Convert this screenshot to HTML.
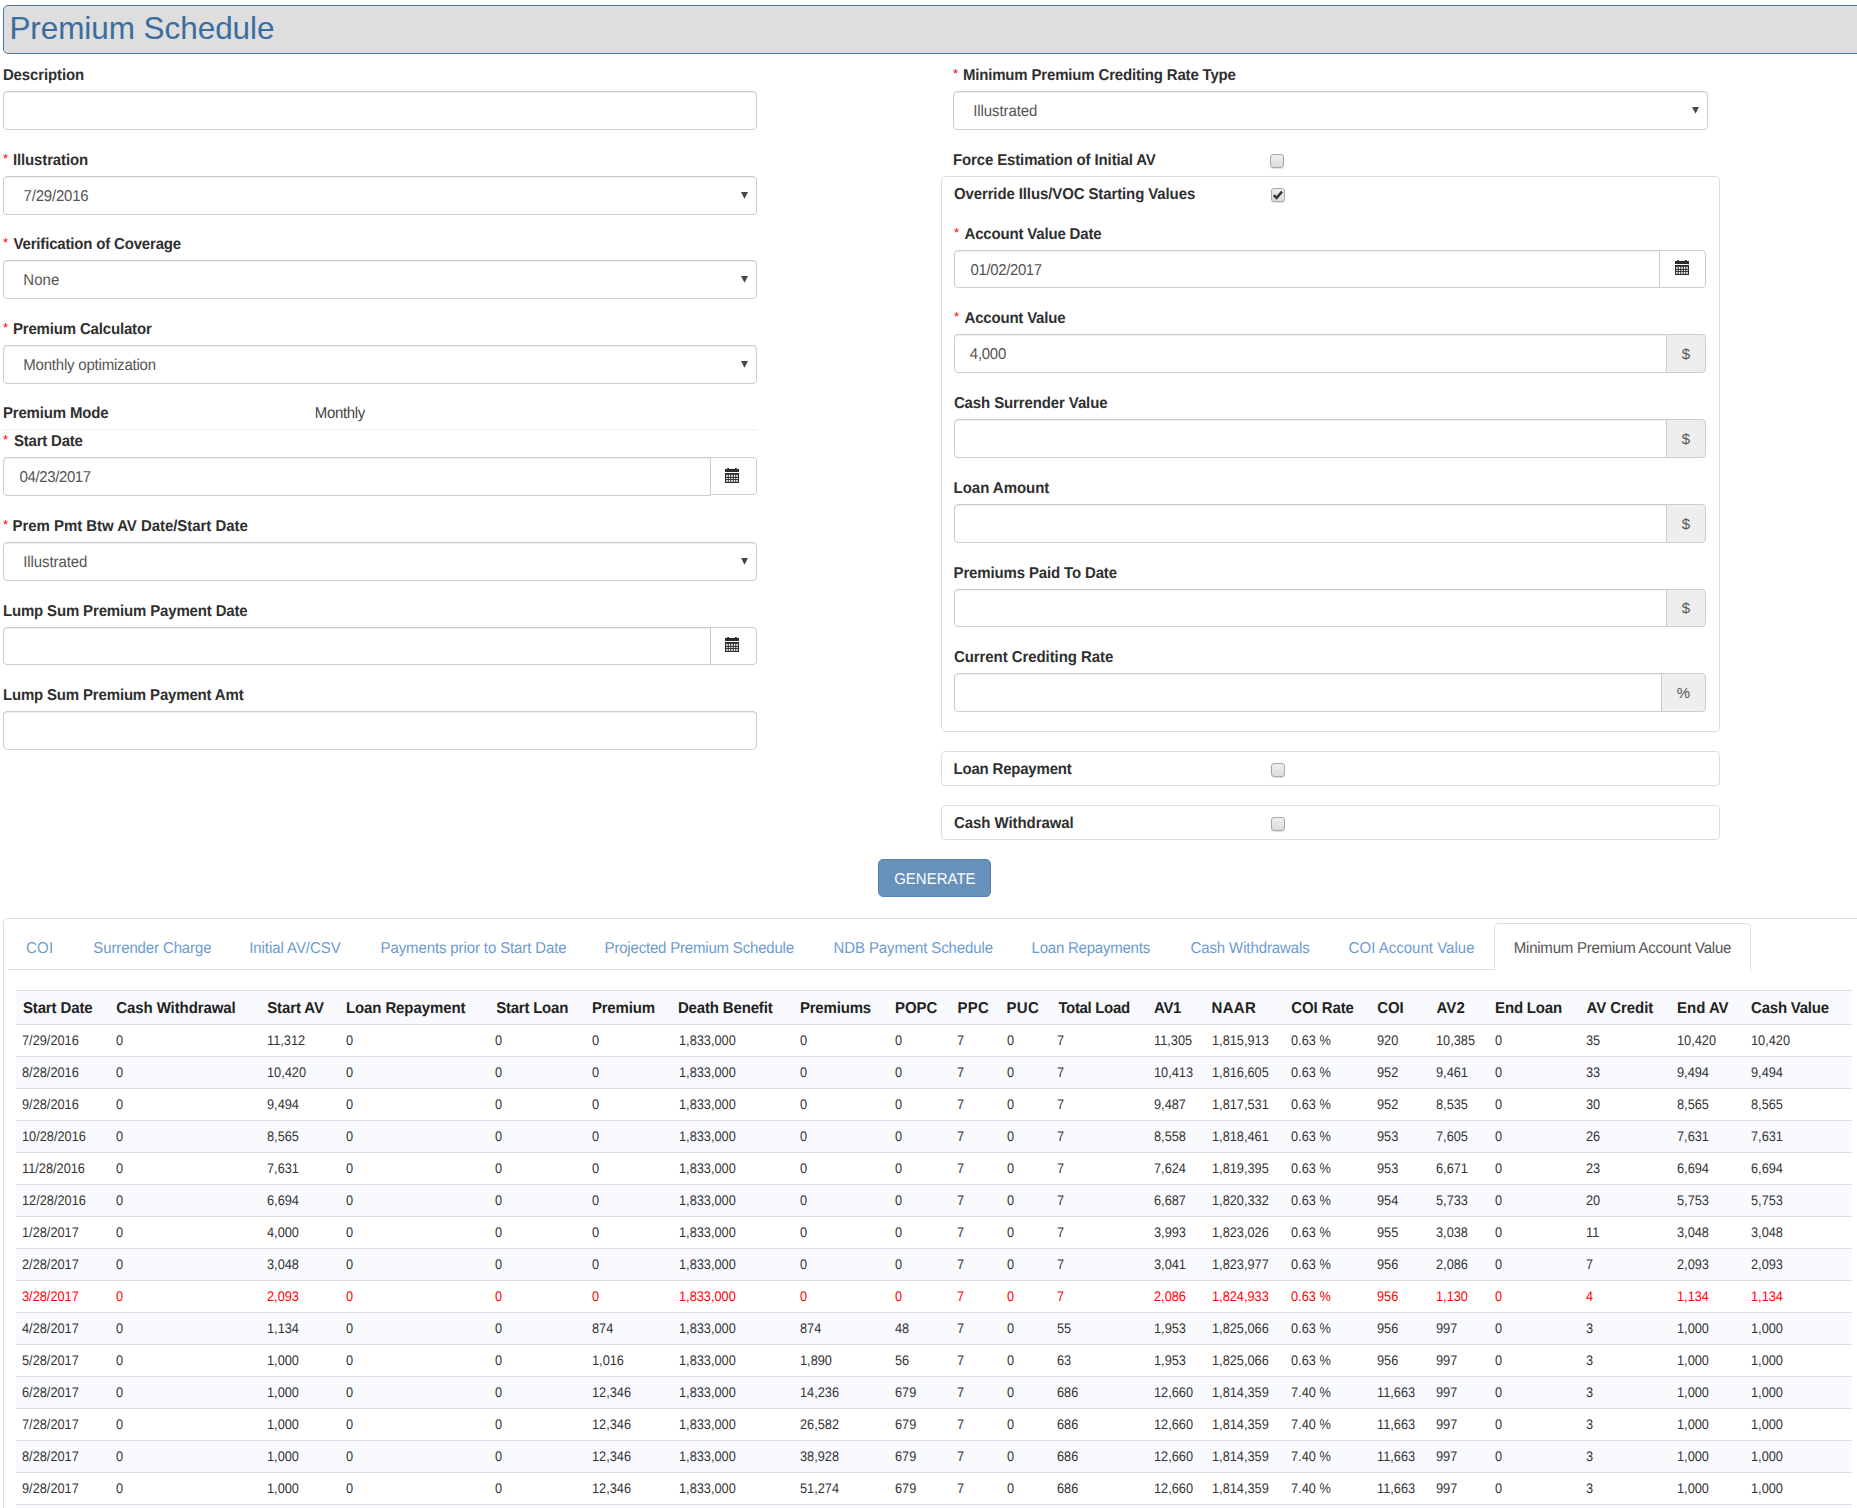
<!DOCTYPE html><html><head><meta charset="utf-8"><title>Premium Schedule</title><style>
*{box-sizing:border-box;margin:0;padding:0}
html,body{width:1857px;height:1508px;overflow:hidden;background:#fff}
body{font-family:"Liberation Sans",sans-serif;font-size:15px;color:#333;position:relative}
.abs{position:absolute}
.t{position:absolute;white-space:nowrap;line-height:20px;height:20px;text-rendering:geometricPrecision;transform:scaleY(1.05);transform-origin:0 14px}
.lb{font-weight:bold;color:#2f2f2f}
.req{color:#f00;font-size:13px;transform:none;text-rendering:auto}
.inp{position:absolute;border:1px solid #ccc;border-radius:4px;background:#fff;box-shadow:inset 0 1px 1px rgba(0,0,0,.075)}
.val{color:#555}
.arrow{position:absolute;width:0;height:0;border-left:3.5px solid transparent;border-right:3.5px solid transparent;border-top:6.5px solid #444}
.addon{position:absolute;border:1px solid #ccc;border-radius:0 4px 4px 0;background:#eee;color:#555;text-align:center}
.addon.w{background:#fff}
.panel{position:absolute;border:1px solid #ddd;border-radius:4px;background:#fff}
.cb{position:absolute;width:14px;height:14px;border:1px solid #a8a8a8;border-radius:3px;background:linear-gradient(#efefef,#dcdcdc);box-shadow:0 1px 1px rgba(0,0,0,.12)}
.tab{color:#6d9bcf}
.th{font-weight:bold;color:#222}
.td{font-size:14px;color:#333;transform:scaleX(0.912);transform-origin:0 14px}
.red{color:#f00}
</style></head><body>
<div class="abs" style="left:3px;top:5px;width:1870px;height:49px;background:#dedede;border:1px solid #4b77a6;border-radius:5px"></div>
<div id="title" class="t " style="left:9.38px;top:7px;letter-spacing:-0.067px;font-size:31.5px;line-height:42px;height:42px;color:#3b6d9e;transform:none;text-rendering:auto">Premium Schedule</div>
<div id="t2" class="t lb" style="left:2.90px;top:66.0px;letter-spacing:-0.119px;">Description</div>
<div class="inp" style="left:3px;top:91px;width:754px;height:39px;"></div>
<div class="t req" style="left:3px;top:149.1px">*</div>
<div id="t3" class="t lb" style="left:12.90px;top:151.0px;letter-spacing:-0.123px;">Illustration</div>
<div class="inp" style="left:3px;top:176px;width:754px;height:39px;"></div>
<div id="t4" class="t val" style="left:23.62px;top:187.0px;letter-spacing:-0.203px;">7/29/2016</div>
<svg class="abs" style="left:741.0px;top:192px" width="8" height="8" viewBox="0 0 8 8"><path d="M0 0H7L3.5 6.8z" fill="#484848"/></svg>
<div class="t req" style="left:3px;top:233.1px">*</div>
<div id="t5" class="t lb" style="left:13.55px;top:235.0px;letter-spacing:-0.179px;">Verification of Coverage</div>
<div class="inp" style="left:3px;top:260px;width:754px;height:39px;"></div>
<div id="t6" class="t val" style="left:23.31px;top:271.0px;letter-spacing:0.072px;">None</div>
<svg class="abs" style="left:741.0px;top:276px" width="8" height="8" viewBox="0 0 8 8"><path d="M0 0H7L3.5 6.8z" fill="#484848"/></svg>
<div class="t req" style="left:3px;top:318.1px">*</div>
<div id="t7" class="t lb" style="left:12.90px;top:320.0px;letter-spacing:-0.168px;">Premium Calculator</div>
<div class="inp" style="left:3px;top:345px;width:754px;height:39px;"></div>
<div id="t8" class="t val" style="left:23.31px;top:356.0px;letter-spacing:-0.208px;">Monthly optimization</div>
<svg class="abs" style="left:741.0px;top:361px" width="8" height="8" viewBox="0 0 8 8"><path d="M0 0H7L3.5 6.8z" fill="#484848"/></svg>
<div id="t9" class="t lb" style="left:2.90px;top:404.0px;letter-spacing:-0.166px;">Premium Mode</div>
<div id="t10" class="t val" style="left:314.77px;top:404.0px;letter-spacing:-0.319px;color:#444">Monthly</div>
<div class="abs" style="left:3px;top:429px;width:754px;height:1px;background:#eee"></div>
<div class="t req" style="left:3px;top:430.1px">*</div>
<div id="t11" class="t lb" style="left:14.07px;top:432.0px;letter-spacing:-0.222px;">Start Date</div>
<div class="inp" style="left:3px;top:457px;width:708px;height:39px;border-radius:4px 0 0 4px;"></div>
<div id="t12" class="t val" style="left:19.48px;top:468.0px;letter-spacing:-0.373px;">04/23/2017</div>
<div class="addon w" style="left:710px;top:457px;width:47px;height:38px;line-height:36px"></div>
<svg width="14" height="15" viewBox="0 0 14 15" style="position:absolute;left:725px;top:468px"><path fill="#2b2b2b" d="M0 1.1h14v2.8H0z M2.3 0h1.7v1.5H2.3z M10 0h1.7v1.5H10z M0 5h14v10H0z"/><g fill="#fff"><rect x="1.2" y="6.8" width="1.5" height="2.1"/><rect x="1.2" y="9.9" width="1.5" height="1.1"/><rect x="1.2" y="11.9" width="1.5" height="2.0"/><rect x="3.75" y="6.8" width="1.5" height="2.1"/><rect x="3.75" y="9.9" width="1.5" height="1.1"/><rect x="3.75" y="11.9" width="1.5" height="2.0"/><rect x="6.25" y="6.8" width="1.5" height="2.1"/><rect x="6.25" y="9.9" width="1.5" height="1.1"/><rect x="6.25" y="11.9" width="1.5" height="2.0"/><rect x="8.8" y="6.8" width="1.5" height="2.1"/><rect x="8.8" y="9.9" width="1.5" height="1.1"/><rect x="8.8" y="11.9" width="1.5" height="2.0"/><rect x="11.3" y="6.8" width="1.5" height="2.1"/><rect x="11.3" y="9.9" width="1.5" height="1.1"/><rect x="11.3" y="11.9" width="1.5" height="2.0"/></g></svg>
<div class="t req" style="left:3px;top:515.1px">*</div>
<div id="t13" class="t lb" style="left:12.48px;top:517.0px;letter-spacing:-0.048px;">Prem Pmt Btw AV Date/Start Date</div>
<div class="inp" style="left:3px;top:542px;width:754px;height:39px;"></div>
<div id="t14" class="t val" style="left:23.16px;top:553.0px;letter-spacing:-0.075px;">Illustrated</div>
<svg class="abs" style="left:741.0px;top:558px" width="8" height="8" viewBox="0 0 8 8"><path d="M0 0H7L3.5 6.8z" fill="#484848"/></svg>
<div id="t15" class="t lb" style="left:2.90px;top:602.0px;letter-spacing:-0.159px;">Lump Sum Premium Payment Date</div>
<div class="inp" style="left:3px;top:627px;width:708px;height:38px;border-radius:4px 0 0 4px;"></div>
<div class="addon w" style="left:710px;top:627px;width:47px;height:38px;line-height:36px"></div>
<svg width="14" height="15" viewBox="0 0 14 15" style="position:absolute;left:725px;top:637px"><path fill="#2b2b2b" d="M0 1.1h14v2.8H0z M2.3 0h1.7v1.5H2.3z M10 0h1.7v1.5H10z M0 5h14v10H0z"/><g fill="#fff"><rect x="1.2" y="6.8" width="1.5" height="2.1"/><rect x="1.2" y="9.9" width="1.5" height="1.1"/><rect x="1.2" y="11.9" width="1.5" height="2.0"/><rect x="3.75" y="6.8" width="1.5" height="2.1"/><rect x="3.75" y="9.9" width="1.5" height="1.1"/><rect x="3.75" y="11.9" width="1.5" height="2.0"/><rect x="6.25" y="6.8" width="1.5" height="2.1"/><rect x="6.25" y="9.9" width="1.5" height="1.1"/><rect x="6.25" y="11.9" width="1.5" height="2.0"/><rect x="8.8" y="6.8" width="1.5" height="2.1"/><rect x="8.8" y="9.9" width="1.5" height="1.1"/><rect x="8.8" y="11.9" width="1.5" height="2.0"/><rect x="11.3" y="6.8" width="1.5" height="2.1"/><rect x="11.3" y="9.9" width="1.5" height="1.1"/><rect x="11.3" y="11.9" width="1.5" height="2.0"/></g></svg>
<div id="t16" class="t lb" style="left:2.90px;top:686.0px;letter-spacing:-0.169px;">Lump Sum Premium Payment Amt</div>
<div class="inp" style="left:3px;top:711px;width:754px;height:39px;"></div>
<div class="t req" style="left:953px;top:64.1px">*</div>
<div id="t17" class="t lb" style="left:962.90px;top:66.0px;letter-spacing:-0.173px;">Minimum Premium Crediting Rate Type</div>
<div class="inp" style="left:953px;top:91px;width:755px;height:39px;"></div>
<div id="t18" class="t val" style="left:973.16px;top:102.0px;letter-spacing:-0.075px;">Illustrated</div>
<svg class="abs" style="left:1692.0px;top:107px" width="8" height="8" viewBox="0 0 8 8"><path d="M0 0H7L3.5 6.8z" fill="#484848"/></svg>
<div id="t19" class="t lb" style="left:952.90px;top:151.0px;letter-spacing:-0.128px;">Force Estimation of Initial AV</div>
<div class="cb" style="left:1270px;top:154px"></div>
<div class="panel" style="left:941px;top:176px;width:779px;height:556px"></div>
<div id="t20" class="t lb" style="left:953.90px;top:185.0px;letter-spacing:-0.113px;">Override Illus/VOC Starting Values</div>
<div class="cb" style="left:1271px;top:188px"></div>
<svg class="abs" style="left:1271px;top:188px" width="14" height="14" viewBox="0 0 14 14"><path d="M2.8 7.2 L5.6 10 L11 3.6" fill="none" stroke="#333" stroke-width="2.5"/></svg>
<div class="t req" style="left:954px;top:223.1px">*</div>
<div id="t21" class="t lb" style="left:964.52px;top:225.0px;letter-spacing:-0.175px;">Account Value Date</div>
<div class="inp" style="left:954px;top:250px;width:706px;height:38px;border-radius:4px 0 0 4px;"></div>
<div id="t22" class="t val" style="left:970.48px;top:261.0px;letter-spacing:-0.373px;">01/02/2017</div>
<div class="addon w" style="left:1659px;top:250px;width:47px;height:38px;line-height:36px"></div>
<svg width="14" height="15" viewBox="0 0 14 15" style="position:absolute;left:1675px;top:260px"><path fill="#2b2b2b" d="M0 1.1h14v2.8H0z M2.3 0h1.7v1.5H2.3z M10 0h1.7v1.5H10z M0 5h14v10H0z"/><g fill="#fff"><rect x="1.2" y="6.8" width="1.5" height="2.1"/><rect x="1.2" y="9.9" width="1.5" height="1.1"/><rect x="1.2" y="11.9" width="1.5" height="2.0"/><rect x="3.75" y="6.8" width="1.5" height="2.1"/><rect x="3.75" y="9.9" width="1.5" height="1.1"/><rect x="3.75" y="11.9" width="1.5" height="2.0"/><rect x="6.25" y="6.8" width="1.5" height="2.1"/><rect x="6.25" y="9.9" width="1.5" height="1.1"/><rect x="6.25" y="11.9" width="1.5" height="2.0"/><rect x="8.8" y="6.8" width="1.5" height="2.1"/><rect x="8.8" y="9.9" width="1.5" height="1.1"/><rect x="8.8" y="11.9" width="1.5" height="2.0"/><rect x="11.3" y="6.8" width="1.5" height="2.1"/><rect x="11.3" y="9.9" width="1.5" height="1.1"/><rect x="11.3" y="11.9" width="1.5" height="2.0"/></g></svg>
<div class="t req" style="left:954px;top:307.1px">*</div>
<div id="t23" class="t lb" style="left:964.52px;top:309.0px;letter-spacing:-0.193px;">Account Value</div>
<div class="inp" style="left:954px;top:334px;width:713px;height:39px;border-radius:4px 0 0 4px;"></div>
<div id="t24" class="t val" style="left:969.86px;top:345.0px;letter-spacing:-0.291px;">4,000</div>
<div class="addon" style="left:1666px;top:334px;width:40px;height:39px;line-height:37px">$</div>
<div id="t25" class="t lb" style="left:953.92px;top:394.0px;letter-spacing:-0.119px;">Cash Surrender Value</div>
<div class="inp" style="left:954px;top:419px;width:713px;height:39px;border-radius:4px 0 0 4px;"></div>
<div class="addon" style="left:1666px;top:419px;width:40px;height:39px;line-height:37px">$</div>
<div id="t26" class="t lb" style="left:953.58px;top:479.0px;letter-spacing:-0.037px;">Loan Amount</div>
<div class="inp" style="left:954px;top:504px;width:713px;height:39px;border-radius:4px 0 0 4px;"></div>
<div class="addon" style="left:1666px;top:504px;width:40px;height:39px;line-height:37px">$</div>
<div id="t27" class="t lb" style="left:953.58px;top:564.0px;letter-spacing:-0.149px;">Premiums Paid To Date</div>
<div class="inp" style="left:954px;top:589px;width:713px;height:38px;border-radius:4px 0 0 4px;"></div>
<div class="addon" style="left:1666px;top:589px;width:40px;height:38px;line-height:36px">$</div>
<div id="t28" class="t lb" style="left:953.92px;top:648.0px;letter-spacing:-0.070px;">Current Crediting Rate</div>
<div class="inp" style="left:954px;top:673px;width:708px;height:39px;border-radius:4px 0 0 4px;"></div>
<div class="addon" style="left:1661px;top:673px;width:45px;height:39px;line-height:37px">%</div>
<div class="panel" style="left:941px;top:751px;width:779px;height:35px"></div>
<div id="t29" class="t lb" style="left:953.58px;top:760.0px;letter-spacing:-0.210px;">Loan Repayment</div>
<div class="cb" style="left:1271px;top:763px"></div>
<div class="panel" style="left:941px;top:805px;width:779px;height:35px"></div>
<div id="t30" class="t lb" style="left:953.92px;top:814.0px;letter-spacing:-0.063px;">Cash Withdrawal</div>
<div class="cb" style="left:1271px;top:817px"></div>
<div class="abs" style="left:878px;top:859px;width:113px;height:38px;background:#6691bb;border:1px solid #5282b3;border-radius:5px"></div>
<div id="btn" class="t " style="left:894.19px;top:869.6px;letter-spacing:-0.000px;color:#fff">GENERATE</div>
<div class="abs" style="left:3px;top:918px;width:1870px;height:700px;border:1px solid #ddd;border-radius:5px 0 0 0"></div>
<div class="abs" style="left:8px;top:969px;width:1743px;height:1px;background:#ddd"></div>
<div id="t32" class="t tab" style="left:25.94px;top:939.0px;letter-spacing:0.300px;">COI</div>
<div id="t33" class="t tab" style="left:93.37px;top:939.0px;letter-spacing:-0.130px;">Surrender Charge</div>
<div id="t34" class="t tab" style="left:249.21px;top:939.0px;letter-spacing:-0.064px;">Initial AV/CSV</div>
<div id="t35" class="t tab" style="left:380.59px;top:939.0px;letter-spacing:-0.119px;">Payments prior to Start Date</div>
<div id="t36" class="t tab" style="left:604.59px;top:939.0px;letter-spacing:-0.190px;">Projected Premium Schedule</div>
<div id="t37" class="t tab" style="left:833.59px;top:939.0px;letter-spacing:-0.120px;">NDB Payment Schedule</div>
<div id="t38" class="t tab" style="left:1031.59px;top:939.0px;letter-spacing:-0.225px;">Loan Repayments</div>
<div id="t39" class="t tab" style="left:1190.43px;top:939.0px;letter-spacing:-0.104px;">Cash Withdrawals</div>
<div id="t40" class="t tab" style="left:1348.60px;top:939.0px;letter-spacing:0.019px;">COI Account Value</div>
<div class="abs" style="left:1494px;top:923px;width:257px;height:48px;border:1px solid #ddd;border-bottom:none;border-radius:5px 5px 0 0;background:#fff"></div>
<div id="t41" class="t tab" style="left:1513.77px;top:939.0px;letter-spacing:-0.225px;color:#555">Minimum Premium Account Value</div>
<div class="abs" style="left:16px;top:990px;width:1836px;height:35px;background:#f9fafd;border-top:1px solid #ddd;border-bottom:1px solid #ddd"></div>
<div id="t42" class="t th" style="left:22.91px;top:999.0px;letter-spacing:-0.130px;">Start Date</div>
<div id="t43" class="t th" style="left:116.27px;top:999.0px;letter-spacing:-0.086px;">Cash Withdrawal</div>
<div id="t44" class="t th" style="left:267.18px;top:999.0px;letter-spacing:-0.113px;">Start AV</div>
<div id="t45" class="t th" style="left:345.90px;top:999.0px;letter-spacing:-0.100px;">Loan Repayment</div>
<div id="t46" class="t th" style="left:496.18px;top:999.0px;letter-spacing:-0.223px;">Start Loan</div>
<div id="t47" class="t th" style="left:591.90px;top:999.0px;letter-spacing:-0.182px;">Premium</div>
<div id="t48" class="t th" style="left:677.90px;top:999.0px;letter-spacing:-0.157px;">Death Benefit</div>
<div id="t49" class="t th" style="left:799.90px;top:999.0px;letter-spacing:-0.184px;">Premiums</div>
<div id="t50" class="t th" style="left:895.11px;top:999.0px;letter-spacing:-0.100px;">POPC</div>
<div id="t51" class="t th" style="left:957.58px;top:999.0px;letter-spacing:0.194px;">PPC</div>
<div id="t52" class="t th" style="left:1006.58px;top:999.0px;letter-spacing:0.244px;">PUC</div>
<div id="t53" class="t th" style="left:1058.42px;top:999.0px;letter-spacing:-0.338px;">Total Load</div>
<div id="t54" class="t th" style="left:1153.98px;top:999.0px;letter-spacing:-0.300px;">AV1</div>
<div id="t55" class="t th" style="left:1211.58px;top:999.0px;letter-spacing:0.300px;">NAAR</div>
<div id="t56" class="t th" style="left:1291.27px;top:999.0px;letter-spacing:-0.096px;">COI Rate</div>
<div id="t57" class="t th" style="left:1377.27px;top:999.0px;letter-spacing:-0.100px;">COI</div>
<div id="t58" class="t th" style="left:1436.52px;top:999.0px;letter-spacing:0.070px;">AV2</div>
<div id="t59" class="t th" style="left:1495.11px;top:999.0px;letter-spacing:-0.196px;">End Loan</div>
<div id="t60" class="t th" style="left:1586.52px;top:999.0px;letter-spacing:-0.051px;">AV Credit</div>
<div id="t61" class="t th" style="left:1677.11px;top:999.0px;letter-spacing:-0.040px;">End AV</div>
<div id="t62" class="t th" style="left:1751.07px;top:999.0px;letter-spacing:-0.233px;">Cash Value</div>
<div class="abs" style="left:16px;top:1024px;width:1836px;height:33px;background:#fff;border-top:1px solid #ddd"></div>
<div class="t td" style="left:21.60px;top:1029.5px;letter-spacing:0.000px">7/29/2016</div>
<div class="t td" style="left:115.60px;top:1029.5px;letter-spacing:0.000px">0</div>
<div class="t td" style="left:266.60px;top:1029.5px;letter-spacing:0.000px">11,312</div>
<div class="t td" style="left:345.60px;top:1029.5px;letter-spacing:0.000px">0</div>
<div class="t td" style="left:494.60px;top:1029.5px;letter-spacing:0.000px">0</div>
<div class="t td" style="left:591.60px;top:1029.5px;letter-spacing:0.000px">0</div>
<div class="t td" style="left:678.60px;top:1029.5px;letter-spacing:0.000px">1,833,000</div>
<div class="t td" style="left:799.60px;top:1029.5px;letter-spacing:0.000px">0</div>
<div class="t td" style="left:894.85px;top:1029.5px;letter-spacing:0.000px">0</div>
<div class="t td" style="left:957.35px;top:1029.5px;letter-spacing:0.000px">7</div>
<div class="t td" style="left:1006.60px;top:1029.5px;letter-spacing:0.000px">0</div>
<div class="t td" style="left:1057.35px;top:1029.5px;letter-spacing:0.000px">7</div>
<div class="t td" style="left:1153.85px;top:1029.5px;letter-spacing:0.000px">11,305</div>
<div class="t td" style="left:1211.85px;top:1029.5px;letter-spacing:0.000px">1,815,913</div>
<div class="t td" style="left:1290.60px;top:1029.5px;letter-spacing:0.000px">0.63 %</div>
<div class="t td" style="left:1376.60px;top:1029.5px;letter-spacing:0.000px">920</div>
<div class="t td" style="left:1436.10px;top:1029.5px;letter-spacing:0.000px">10,385</div>
<div class="t td" style="left:1494.85px;top:1029.5px;letter-spacing:0.000px">0</div>
<div class="t td" style="left:1585.60px;top:1029.5px;letter-spacing:0.000px">35</div>
<div class="t td" style="left:1677.10px;top:1029.5px;letter-spacing:0.000px">10,420</div>
<div class="t td" style="left:1751.10px;top:1029.5px;letter-spacing:0.000px">10,420</div>
<div class="abs" style="left:16px;top:1056px;width:1836px;height:33px;background:#f9fafd;border-top:1px solid #ddd"></div>
<div class="t td" style="left:21.60px;top:1061.5px;letter-spacing:0.000px">8/28/2016</div>
<div class="t td" style="left:115.60px;top:1061.5px;letter-spacing:0.000px">0</div>
<div class="t td" style="left:266.60px;top:1061.5px;letter-spacing:0.000px">10,420</div>
<div class="t td" style="left:345.60px;top:1061.5px;letter-spacing:0.000px">0</div>
<div class="t td" style="left:494.60px;top:1061.5px;letter-spacing:0.000px">0</div>
<div class="t td" style="left:591.60px;top:1061.5px;letter-spacing:0.000px">0</div>
<div class="t td" style="left:678.60px;top:1061.5px;letter-spacing:0.000px">1,833,000</div>
<div class="t td" style="left:799.60px;top:1061.5px;letter-spacing:0.000px">0</div>
<div class="t td" style="left:894.85px;top:1061.5px;letter-spacing:0.000px">0</div>
<div class="t td" style="left:957.35px;top:1061.5px;letter-spacing:0.000px">7</div>
<div class="t td" style="left:1006.60px;top:1061.5px;letter-spacing:0.000px">0</div>
<div class="t td" style="left:1057.35px;top:1061.5px;letter-spacing:0.000px">7</div>
<div class="t td" style="left:1153.85px;top:1061.5px;letter-spacing:0.000px">10,413</div>
<div class="t td" style="left:1211.85px;top:1061.5px;letter-spacing:0.000px">1,816,605</div>
<div class="t td" style="left:1290.60px;top:1061.5px;letter-spacing:0.000px">0.63 %</div>
<div class="t td" style="left:1376.60px;top:1061.5px;letter-spacing:0.000px">952</div>
<div class="t td" style="left:1436.10px;top:1061.5px;letter-spacing:0.000px">9,461</div>
<div class="t td" style="left:1494.85px;top:1061.5px;letter-spacing:0.000px">0</div>
<div class="t td" style="left:1585.60px;top:1061.5px;letter-spacing:0.000px">33</div>
<div class="t td" style="left:1677.10px;top:1061.5px;letter-spacing:0.000px">9,494</div>
<div class="t td" style="left:1751.10px;top:1061.5px;letter-spacing:0.000px">9,494</div>
<div class="abs" style="left:16px;top:1088px;width:1836px;height:33px;background:#fff;border-top:1px solid #ddd"></div>
<div class="t td" style="left:21.60px;top:1093.5px;letter-spacing:0.000px">9/28/2016</div>
<div class="t td" style="left:115.60px;top:1093.5px;letter-spacing:0.000px">0</div>
<div class="t td" style="left:266.60px;top:1093.5px;letter-spacing:0.000px">9,494</div>
<div class="t td" style="left:345.60px;top:1093.5px;letter-spacing:0.000px">0</div>
<div class="t td" style="left:494.60px;top:1093.5px;letter-spacing:0.000px">0</div>
<div class="t td" style="left:591.60px;top:1093.5px;letter-spacing:0.000px">0</div>
<div class="t td" style="left:678.60px;top:1093.5px;letter-spacing:0.000px">1,833,000</div>
<div class="t td" style="left:799.60px;top:1093.5px;letter-spacing:0.000px">0</div>
<div class="t td" style="left:894.85px;top:1093.5px;letter-spacing:0.000px">0</div>
<div class="t td" style="left:957.35px;top:1093.5px;letter-spacing:0.000px">7</div>
<div class="t td" style="left:1006.60px;top:1093.5px;letter-spacing:0.000px">0</div>
<div class="t td" style="left:1057.35px;top:1093.5px;letter-spacing:0.000px">7</div>
<div class="t td" style="left:1153.85px;top:1093.5px;letter-spacing:0.000px">9,487</div>
<div class="t td" style="left:1211.85px;top:1093.5px;letter-spacing:0.000px">1,817,531</div>
<div class="t td" style="left:1290.60px;top:1093.5px;letter-spacing:0.000px">0.63 %</div>
<div class="t td" style="left:1376.60px;top:1093.5px;letter-spacing:0.000px">952</div>
<div class="t td" style="left:1436.10px;top:1093.5px;letter-spacing:0.000px">8,535</div>
<div class="t td" style="left:1494.85px;top:1093.5px;letter-spacing:0.000px">0</div>
<div class="t td" style="left:1585.60px;top:1093.5px;letter-spacing:0.000px">30</div>
<div class="t td" style="left:1677.10px;top:1093.5px;letter-spacing:0.000px">8,565</div>
<div class="t td" style="left:1751.10px;top:1093.5px;letter-spacing:0.000px">8,565</div>
<div class="abs" style="left:16px;top:1120px;width:1836px;height:33px;background:#f9fafd;border-top:1px solid #ddd"></div>
<div class="t td" style="left:21.60px;top:1125.5px;letter-spacing:0.000px">10/28/2016</div>
<div class="t td" style="left:115.60px;top:1125.5px;letter-spacing:0.000px">0</div>
<div class="t td" style="left:266.60px;top:1125.5px;letter-spacing:0.000px">8,565</div>
<div class="t td" style="left:345.60px;top:1125.5px;letter-spacing:0.000px">0</div>
<div class="t td" style="left:494.60px;top:1125.5px;letter-spacing:0.000px">0</div>
<div class="t td" style="left:591.60px;top:1125.5px;letter-spacing:0.000px">0</div>
<div class="t td" style="left:678.60px;top:1125.5px;letter-spacing:0.000px">1,833,000</div>
<div class="t td" style="left:799.60px;top:1125.5px;letter-spacing:0.000px">0</div>
<div class="t td" style="left:894.85px;top:1125.5px;letter-spacing:0.000px">0</div>
<div class="t td" style="left:957.35px;top:1125.5px;letter-spacing:0.000px">7</div>
<div class="t td" style="left:1006.60px;top:1125.5px;letter-spacing:0.000px">0</div>
<div class="t td" style="left:1057.35px;top:1125.5px;letter-spacing:0.000px">7</div>
<div class="t td" style="left:1153.85px;top:1125.5px;letter-spacing:0.000px">8,558</div>
<div class="t td" style="left:1211.85px;top:1125.5px;letter-spacing:0.000px">1,818,461</div>
<div class="t td" style="left:1290.60px;top:1125.5px;letter-spacing:0.000px">0.63 %</div>
<div class="t td" style="left:1376.60px;top:1125.5px;letter-spacing:0.000px">953</div>
<div class="t td" style="left:1436.10px;top:1125.5px;letter-spacing:0.000px">7,605</div>
<div class="t td" style="left:1494.85px;top:1125.5px;letter-spacing:0.000px">0</div>
<div class="t td" style="left:1585.60px;top:1125.5px;letter-spacing:0.000px">26</div>
<div class="t td" style="left:1677.10px;top:1125.5px;letter-spacing:0.000px">7,631</div>
<div class="t td" style="left:1751.10px;top:1125.5px;letter-spacing:0.000px">7,631</div>
<div class="abs" style="left:16px;top:1152px;width:1836px;height:33px;background:#fff;border-top:1px solid #ddd"></div>
<div class="t td" style="left:21.60px;top:1157.5px;letter-spacing:0.000px">11/28/2016</div>
<div class="t td" style="left:115.60px;top:1157.5px;letter-spacing:0.000px">0</div>
<div class="t td" style="left:266.60px;top:1157.5px;letter-spacing:0.000px">7,631</div>
<div class="t td" style="left:345.60px;top:1157.5px;letter-spacing:0.000px">0</div>
<div class="t td" style="left:494.60px;top:1157.5px;letter-spacing:0.000px">0</div>
<div class="t td" style="left:591.60px;top:1157.5px;letter-spacing:0.000px">0</div>
<div class="t td" style="left:678.60px;top:1157.5px;letter-spacing:0.000px">1,833,000</div>
<div class="t td" style="left:799.60px;top:1157.5px;letter-spacing:0.000px">0</div>
<div class="t td" style="left:894.85px;top:1157.5px;letter-spacing:0.000px">0</div>
<div class="t td" style="left:957.35px;top:1157.5px;letter-spacing:0.000px">7</div>
<div class="t td" style="left:1006.60px;top:1157.5px;letter-spacing:0.000px">0</div>
<div class="t td" style="left:1057.35px;top:1157.5px;letter-spacing:0.000px">7</div>
<div class="t td" style="left:1153.85px;top:1157.5px;letter-spacing:0.000px">7,624</div>
<div class="t td" style="left:1211.85px;top:1157.5px;letter-spacing:0.000px">1,819,395</div>
<div class="t td" style="left:1290.60px;top:1157.5px;letter-spacing:0.000px">0.63 %</div>
<div class="t td" style="left:1376.60px;top:1157.5px;letter-spacing:0.000px">953</div>
<div class="t td" style="left:1436.10px;top:1157.5px;letter-spacing:0.000px">6,671</div>
<div class="t td" style="left:1494.85px;top:1157.5px;letter-spacing:0.000px">0</div>
<div class="t td" style="left:1585.60px;top:1157.5px;letter-spacing:0.000px">23</div>
<div class="t td" style="left:1677.10px;top:1157.5px;letter-spacing:0.000px">6,694</div>
<div class="t td" style="left:1751.10px;top:1157.5px;letter-spacing:0.000px">6,694</div>
<div class="abs" style="left:16px;top:1184px;width:1836px;height:33px;background:#f9fafd;border-top:1px solid #ddd"></div>
<div class="t td" style="left:21.60px;top:1189.5px;letter-spacing:0.000px">12/28/2016</div>
<div class="t td" style="left:115.60px;top:1189.5px;letter-spacing:0.000px">0</div>
<div class="t td" style="left:266.60px;top:1189.5px;letter-spacing:0.000px">6,694</div>
<div class="t td" style="left:345.60px;top:1189.5px;letter-spacing:0.000px">0</div>
<div class="t td" style="left:494.60px;top:1189.5px;letter-spacing:0.000px">0</div>
<div class="t td" style="left:591.60px;top:1189.5px;letter-spacing:0.000px">0</div>
<div class="t td" style="left:678.60px;top:1189.5px;letter-spacing:0.000px">1,833,000</div>
<div class="t td" style="left:799.60px;top:1189.5px;letter-spacing:0.000px">0</div>
<div class="t td" style="left:894.85px;top:1189.5px;letter-spacing:0.000px">0</div>
<div class="t td" style="left:957.35px;top:1189.5px;letter-spacing:0.000px">7</div>
<div class="t td" style="left:1006.60px;top:1189.5px;letter-spacing:0.000px">0</div>
<div class="t td" style="left:1057.35px;top:1189.5px;letter-spacing:0.000px">7</div>
<div class="t td" style="left:1153.85px;top:1189.5px;letter-spacing:0.000px">6,687</div>
<div class="t td" style="left:1211.85px;top:1189.5px;letter-spacing:0.000px">1,820,332</div>
<div class="t td" style="left:1290.60px;top:1189.5px;letter-spacing:0.000px">0.63 %</div>
<div class="t td" style="left:1376.60px;top:1189.5px;letter-spacing:0.000px">954</div>
<div class="t td" style="left:1436.10px;top:1189.5px;letter-spacing:0.000px">5,733</div>
<div class="t td" style="left:1494.85px;top:1189.5px;letter-spacing:0.000px">0</div>
<div class="t td" style="left:1585.60px;top:1189.5px;letter-spacing:0.000px">20</div>
<div class="t td" style="left:1677.10px;top:1189.5px;letter-spacing:0.000px">5,753</div>
<div class="t td" style="left:1751.10px;top:1189.5px;letter-spacing:0.000px">5,753</div>
<div class="abs" style="left:16px;top:1216px;width:1836px;height:33px;background:#fff;border-top:1px solid #ddd"></div>
<div class="t td" style="left:21.60px;top:1221.5px;letter-spacing:0.000px">1/28/2017</div>
<div class="t td" style="left:115.60px;top:1221.5px;letter-spacing:0.000px">0</div>
<div class="t td" style="left:266.60px;top:1221.5px;letter-spacing:0.000px">4,000</div>
<div class="t td" style="left:345.60px;top:1221.5px;letter-spacing:0.000px">0</div>
<div class="t td" style="left:494.60px;top:1221.5px;letter-spacing:0.000px">0</div>
<div class="t td" style="left:591.60px;top:1221.5px;letter-spacing:0.000px">0</div>
<div class="t td" style="left:678.60px;top:1221.5px;letter-spacing:0.000px">1,833,000</div>
<div class="t td" style="left:799.60px;top:1221.5px;letter-spacing:0.000px">0</div>
<div class="t td" style="left:894.85px;top:1221.5px;letter-spacing:0.000px">0</div>
<div class="t td" style="left:957.35px;top:1221.5px;letter-spacing:0.000px">7</div>
<div class="t td" style="left:1006.60px;top:1221.5px;letter-spacing:0.000px">0</div>
<div class="t td" style="left:1057.35px;top:1221.5px;letter-spacing:0.000px">7</div>
<div class="t td" style="left:1153.85px;top:1221.5px;letter-spacing:0.000px">3,993</div>
<div class="t td" style="left:1211.85px;top:1221.5px;letter-spacing:0.000px">1,823,026</div>
<div class="t td" style="left:1290.60px;top:1221.5px;letter-spacing:0.000px">0.63 %</div>
<div class="t td" style="left:1376.60px;top:1221.5px;letter-spacing:0.000px">955</div>
<div class="t td" style="left:1436.10px;top:1221.5px;letter-spacing:0.000px">3,038</div>
<div class="t td" style="left:1494.85px;top:1221.5px;letter-spacing:0.000px">0</div>
<div class="t td" style="left:1585.60px;top:1221.5px;letter-spacing:0.000px">11</div>
<div class="t td" style="left:1677.10px;top:1221.5px;letter-spacing:0.000px">3,048</div>
<div class="t td" style="left:1751.10px;top:1221.5px;letter-spacing:0.000px">3,048</div>
<div class="abs" style="left:16px;top:1248px;width:1836px;height:33px;background:#f9fafd;border-top:1px solid #ddd"></div>
<div class="t td" style="left:21.60px;top:1253.5px;letter-spacing:0.000px">2/28/2017</div>
<div class="t td" style="left:115.60px;top:1253.5px;letter-spacing:0.000px">0</div>
<div class="t td" style="left:266.60px;top:1253.5px;letter-spacing:0.000px">3,048</div>
<div class="t td" style="left:345.60px;top:1253.5px;letter-spacing:0.000px">0</div>
<div class="t td" style="left:494.60px;top:1253.5px;letter-spacing:0.000px">0</div>
<div class="t td" style="left:591.60px;top:1253.5px;letter-spacing:0.000px">0</div>
<div class="t td" style="left:678.60px;top:1253.5px;letter-spacing:0.000px">1,833,000</div>
<div class="t td" style="left:799.60px;top:1253.5px;letter-spacing:0.000px">0</div>
<div class="t td" style="left:894.85px;top:1253.5px;letter-spacing:0.000px">0</div>
<div class="t td" style="left:957.35px;top:1253.5px;letter-spacing:0.000px">7</div>
<div class="t td" style="left:1006.60px;top:1253.5px;letter-spacing:0.000px">0</div>
<div class="t td" style="left:1057.35px;top:1253.5px;letter-spacing:0.000px">7</div>
<div class="t td" style="left:1153.85px;top:1253.5px;letter-spacing:0.000px">3,041</div>
<div class="t td" style="left:1211.85px;top:1253.5px;letter-spacing:0.000px">1,823,977</div>
<div class="t td" style="left:1290.60px;top:1253.5px;letter-spacing:0.000px">0.63 %</div>
<div class="t td" style="left:1376.60px;top:1253.5px;letter-spacing:0.000px">956</div>
<div class="t td" style="left:1436.10px;top:1253.5px;letter-spacing:0.000px">2,086</div>
<div class="t td" style="left:1494.85px;top:1253.5px;letter-spacing:0.000px">0</div>
<div class="t td" style="left:1585.60px;top:1253.5px;letter-spacing:0.000px">7</div>
<div class="t td" style="left:1677.10px;top:1253.5px;letter-spacing:0.000px">2,093</div>
<div class="t td" style="left:1751.10px;top:1253.5px;letter-spacing:0.000px">2,093</div>
<div class="abs" style="left:16px;top:1280px;width:1836px;height:33px;background:#fff;border-top:1px solid #ddd"></div>
<div class="t td red" style="left:21.60px;top:1285.5px;letter-spacing:0.000px">3/28/2017</div>
<div class="t td red" style="left:115.60px;top:1285.5px;letter-spacing:0.000px">0</div>
<div class="t td red" style="left:266.60px;top:1285.5px;letter-spacing:0.000px">2,093</div>
<div class="t td red" style="left:345.60px;top:1285.5px;letter-spacing:0.000px">0</div>
<div class="t td red" style="left:494.60px;top:1285.5px;letter-spacing:0.000px">0</div>
<div class="t td red" style="left:591.60px;top:1285.5px;letter-spacing:0.000px">0</div>
<div class="t td red" style="left:678.60px;top:1285.5px;letter-spacing:0.000px">1,833,000</div>
<div class="t td red" style="left:799.60px;top:1285.5px;letter-spacing:0.000px">0</div>
<div class="t td red" style="left:894.85px;top:1285.5px;letter-spacing:0.000px">0</div>
<div class="t td red" style="left:957.35px;top:1285.5px;letter-spacing:0.000px">7</div>
<div class="t td red" style="left:1006.60px;top:1285.5px;letter-spacing:0.000px">0</div>
<div class="t td red" style="left:1057.35px;top:1285.5px;letter-spacing:0.000px">7</div>
<div class="t td red" style="left:1153.85px;top:1285.5px;letter-spacing:0.000px">2,086</div>
<div class="t td red" style="left:1211.85px;top:1285.5px;letter-spacing:0.000px">1,824,933</div>
<div class="t td red" style="left:1290.60px;top:1285.5px;letter-spacing:0.000px">0.63 %</div>
<div class="t td red" style="left:1376.60px;top:1285.5px;letter-spacing:0.000px">956</div>
<div class="t td red" style="left:1436.10px;top:1285.5px;letter-spacing:0.000px">1,130</div>
<div class="t td red" style="left:1494.85px;top:1285.5px;letter-spacing:0.000px">0</div>
<div class="t td red" style="left:1585.60px;top:1285.5px;letter-spacing:0.000px">4</div>
<div class="t td red" style="left:1677.10px;top:1285.5px;letter-spacing:0.000px">1,134</div>
<div class="t td red" style="left:1751.10px;top:1285.5px;letter-spacing:0.000px">1,134</div>
<div class="abs" style="left:16px;top:1312px;width:1836px;height:33px;background:#f9fafd;border-top:1px solid #ddd"></div>
<div class="t td" style="left:21.60px;top:1317.5px;letter-spacing:0.000px">4/28/2017</div>
<div class="t td" style="left:115.60px;top:1317.5px;letter-spacing:0.000px">0</div>
<div class="t td" style="left:266.60px;top:1317.5px;letter-spacing:0.000px">1,134</div>
<div class="t td" style="left:345.60px;top:1317.5px;letter-spacing:0.000px">0</div>
<div class="t td" style="left:494.60px;top:1317.5px;letter-spacing:0.000px">0</div>
<div class="t td" style="left:591.60px;top:1317.5px;letter-spacing:0.000px">874</div>
<div class="t td" style="left:678.60px;top:1317.5px;letter-spacing:0.000px">1,833,000</div>
<div class="t td" style="left:799.60px;top:1317.5px;letter-spacing:0.000px">874</div>
<div class="t td" style="left:894.85px;top:1317.5px;letter-spacing:0.000px">48</div>
<div class="t td" style="left:957.35px;top:1317.5px;letter-spacing:0.000px">7</div>
<div class="t td" style="left:1006.60px;top:1317.5px;letter-spacing:0.000px">0</div>
<div class="t td" style="left:1057.35px;top:1317.5px;letter-spacing:0.000px">55</div>
<div class="t td" style="left:1153.85px;top:1317.5px;letter-spacing:0.000px">1,953</div>
<div class="t td" style="left:1211.85px;top:1317.5px;letter-spacing:0.000px">1,825,066</div>
<div class="t td" style="left:1290.60px;top:1317.5px;letter-spacing:0.000px">0.63 %</div>
<div class="t td" style="left:1376.60px;top:1317.5px;letter-spacing:0.000px">956</div>
<div class="t td" style="left:1436.10px;top:1317.5px;letter-spacing:0.000px">997</div>
<div class="t td" style="left:1494.85px;top:1317.5px;letter-spacing:0.000px">0</div>
<div class="t td" style="left:1585.60px;top:1317.5px;letter-spacing:0.000px">3</div>
<div class="t td" style="left:1677.10px;top:1317.5px;letter-spacing:0.000px">1,000</div>
<div class="t td" style="left:1751.10px;top:1317.5px;letter-spacing:0.000px">1,000</div>
<div class="abs" style="left:16px;top:1344px;width:1836px;height:33px;background:#fff;border-top:1px solid #ddd"></div>
<div class="t td" style="left:21.60px;top:1349.5px;letter-spacing:0.000px">5/28/2017</div>
<div class="t td" style="left:115.60px;top:1349.5px;letter-spacing:0.000px">0</div>
<div class="t td" style="left:266.60px;top:1349.5px;letter-spacing:0.000px">1,000</div>
<div class="t td" style="left:345.60px;top:1349.5px;letter-spacing:0.000px">0</div>
<div class="t td" style="left:494.60px;top:1349.5px;letter-spacing:0.000px">0</div>
<div class="t td" style="left:591.60px;top:1349.5px;letter-spacing:0.000px">1,016</div>
<div class="t td" style="left:678.60px;top:1349.5px;letter-spacing:0.000px">1,833,000</div>
<div class="t td" style="left:799.60px;top:1349.5px;letter-spacing:0.000px">1,890</div>
<div class="t td" style="left:894.85px;top:1349.5px;letter-spacing:0.000px">56</div>
<div class="t td" style="left:957.35px;top:1349.5px;letter-spacing:0.000px">7</div>
<div class="t td" style="left:1006.60px;top:1349.5px;letter-spacing:0.000px">0</div>
<div class="t td" style="left:1057.35px;top:1349.5px;letter-spacing:0.000px">63</div>
<div class="t td" style="left:1153.85px;top:1349.5px;letter-spacing:0.000px">1,953</div>
<div class="t td" style="left:1211.85px;top:1349.5px;letter-spacing:0.000px">1,825,066</div>
<div class="t td" style="left:1290.60px;top:1349.5px;letter-spacing:0.000px">0.63 %</div>
<div class="t td" style="left:1376.60px;top:1349.5px;letter-spacing:0.000px">956</div>
<div class="t td" style="left:1436.10px;top:1349.5px;letter-spacing:0.000px">997</div>
<div class="t td" style="left:1494.85px;top:1349.5px;letter-spacing:0.000px">0</div>
<div class="t td" style="left:1585.60px;top:1349.5px;letter-spacing:0.000px">3</div>
<div class="t td" style="left:1677.10px;top:1349.5px;letter-spacing:0.000px">1,000</div>
<div class="t td" style="left:1751.10px;top:1349.5px;letter-spacing:0.000px">1,000</div>
<div class="abs" style="left:16px;top:1376px;width:1836px;height:33px;background:#f9fafd;border-top:1px solid #ddd"></div>
<div class="t td" style="left:21.60px;top:1381.5px;letter-spacing:0.000px">6/28/2017</div>
<div class="t td" style="left:115.60px;top:1381.5px;letter-spacing:0.000px">0</div>
<div class="t td" style="left:266.60px;top:1381.5px;letter-spacing:0.000px">1,000</div>
<div class="t td" style="left:345.60px;top:1381.5px;letter-spacing:0.000px">0</div>
<div class="t td" style="left:494.60px;top:1381.5px;letter-spacing:0.000px">0</div>
<div class="t td" style="left:591.60px;top:1381.5px;letter-spacing:0.000px">12,346</div>
<div class="t td" style="left:678.60px;top:1381.5px;letter-spacing:0.000px">1,833,000</div>
<div class="t td" style="left:799.60px;top:1381.5px;letter-spacing:0.000px">14,236</div>
<div class="t td" style="left:894.85px;top:1381.5px;letter-spacing:0.000px">679</div>
<div class="t td" style="left:957.35px;top:1381.5px;letter-spacing:0.000px">7</div>
<div class="t td" style="left:1006.60px;top:1381.5px;letter-spacing:0.000px">0</div>
<div class="t td" style="left:1057.35px;top:1381.5px;letter-spacing:0.000px">686</div>
<div class="t td" style="left:1153.85px;top:1381.5px;letter-spacing:0.000px">12,660</div>
<div class="t td" style="left:1211.85px;top:1381.5px;letter-spacing:0.000px">1,814,359</div>
<div class="t td" style="left:1290.60px;top:1381.5px;letter-spacing:0.000px">7.40 %</div>
<div class="t td" style="left:1376.60px;top:1381.5px;letter-spacing:0.000px">11,663</div>
<div class="t td" style="left:1436.10px;top:1381.5px;letter-spacing:0.000px">997</div>
<div class="t td" style="left:1494.85px;top:1381.5px;letter-spacing:0.000px">0</div>
<div class="t td" style="left:1585.60px;top:1381.5px;letter-spacing:0.000px">3</div>
<div class="t td" style="left:1677.10px;top:1381.5px;letter-spacing:0.000px">1,000</div>
<div class="t td" style="left:1751.10px;top:1381.5px;letter-spacing:0.000px">1,000</div>
<div class="abs" style="left:16px;top:1408px;width:1836px;height:33px;background:#fff;border-top:1px solid #ddd"></div>
<div class="t td" style="left:21.60px;top:1413.5px;letter-spacing:0.000px">7/28/2017</div>
<div class="t td" style="left:115.60px;top:1413.5px;letter-spacing:0.000px">0</div>
<div class="t td" style="left:266.60px;top:1413.5px;letter-spacing:0.000px">1,000</div>
<div class="t td" style="left:345.60px;top:1413.5px;letter-spacing:0.000px">0</div>
<div class="t td" style="left:494.60px;top:1413.5px;letter-spacing:0.000px">0</div>
<div class="t td" style="left:591.60px;top:1413.5px;letter-spacing:0.000px">12,346</div>
<div class="t td" style="left:678.60px;top:1413.5px;letter-spacing:0.000px">1,833,000</div>
<div class="t td" style="left:799.60px;top:1413.5px;letter-spacing:0.000px">26,582</div>
<div class="t td" style="left:894.85px;top:1413.5px;letter-spacing:0.000px">679</div>
<div class="t td" style="left:957.35px;top:1413.5px;letter-spacing:0.000px">7</div>
<div class="t td" style="left:1006.60px;top:1413.5px;letter-spacing:0.000px">0</div>
<div class="t td" style="left:1057.35px;top:1413.5px;letter-spacing:0.000px">686</div>
<div class="t td" style="left:1153.85px;top:1413.5px;letter-spacing:0.000px">12,660</div>
<div class="t td" style="left:1211.85px;top:1413.5px;letter-spacing:0.000px">1,814,359</div>
<div class="t td" style="left:1290.60px;top:1413.5px;letter-spacing:0.000px">7.40 %</div>
<div class="t td" style="left:1376.60px;top:1413.5px;letter-spacing:0.000px">11,663</div>
<div class="t td" style="left:1436.10px;top:1413.5px;letter-spacing:0.000px">997</div>
<div class="t td" style="left:1494.85px;top:1413.5px;letter-spacing:0.000px">0</div>
<div class="t td" style="left:1585.60px;top:1413.5px;letter-spacing:0.000px">3</div>
<div class="t td" style="left:1677.10px;top:1413.5px;letter-spacing:0.000px">1,000</div>
<div class="t td" style="left:1751.10px;top:1413.5px;letter-spacing:0.000px">1,000</div>
<div class="abs" style="left:16px;top:1440px;width:1836px;height:33px;background:#f9fafd;border-top:1px solid #ddd"></div>
<div class="t td" style="left:21.60px;top:1445.5px;letter-spacing:0.000px">8/28/2017</div>
<div class="t td" style="left:115.60px;top:1445.5px;letter-spacing:0.000px">0</div>
<div class="t td" style="left:266.60px;top:1445.5px;letter-spacing:0.000px">1,000</div>
<div class="t td" style="left:345.60px;top:1445.5px;letter-spacing:0.000px">0</div>
<div class="t td" style="left:494.60px;top:1445.5px;letter-spacing:0.000px">0</div>
<div class="t td" style="left:591.60px;top:1445.5px;letter-spacing:0.000px">12,346</div>
<div class="t td" style="left:678.60px;top:1445.5px;letter-spacing:0.000px">1,833,000</div>
<div class="t td" style="left:799.60px;top:1445.5px;letter-spacing:0.000px">38,928</div>
<div class="t td" style="left:894.85px;top:1445.5px;letter-spacing:0.000px">679</div>
<div class="t td" style="left:957.35px;top:1445.5px;letter-spacing:0.000px">7</div>
<div class="t td" style="left:1006.60px;top:1445.5px;letter-spacing:0.000px">0</div>
<div class="t td" style="left:1057.35px;top:1445.5px;letter-spacing:0.000px">686</div>
<div class="t td" style="left:1153.85px;top:1445.5px;letter-spacing:0.000px">12,660</div>
<div class="t td" style="left:1211.85px;top:1445.5px;letter-spacing:0.000px">1,814,359</div>
<div class="t td" style="left:1290.60px;top:1445.5px;letter-spacing:0.000px">7.40 %</div>
<div class="t td" style="left:1376.60px;top:1445.5px;letter-spacing:0.000px">11,663</div>
<div class="t td" style="left:1436.10px;top:1445.5px;letter-spacing:0.000px">997</div>
<div class="t td" style="left:1494.85px;top:1445.5px;letter-spacing:0.000px">0</div>
<div class="t td" style="left:1585.60px;top:1445.5px;letter-spacing:0.000px">3</div>
<div class="t td" style="left:1677.10px;top:1445.5px;letter-spacing:0.000px">1,000</div>
<div class="t td" style="left:1751.10px;top:1445.5px;letter-spacing:0.000px">1,000</div>
<div class="abs" style="left:16px;top:1472px;width:1836px;height:33px;background:#fff;border-top:1px solid #ddd"></div>
<div class="t td" style="left:21.60px;top:1477.5px;letter-spacing:0.000px">9/28/2017</div>
<div class="t td" style="left:115.60px;top:1477.5px;letter-spacing:0.000px">0</div>
<div class="t td" style="left:266.60px;top:1477.5px;letter-spacing:0.000px">1,000</div>
<div class="t td" style="left:345.60px;top:1477.5px;letter-spacing:0.000px">0</div>
<div class="t td" style="left:494.60px;top:1477.5px;letter-spacing:0.000px">0</div>
<div class="t td" style="left:591.60px;top:1477.5px;letter-spacing:0.000px">12,346</div>
<div class="t td" style="left:678.60px;top:1477.5px;letter-spacing:0.000px">1,833,000</div>
<div class="t td" style="left:799.60px;top:1477.5px;letter-spacing:0.000px">51,274</div>
<div class="t td" style="left:894.85px;top:1477.5px;letter-spacing:0.000px">679</div>
<div class="t td" style="left:957.35px;top:1477.5px;letter-spacing:0.000px">7</div>
<div class="t td" style="left:1006.60px;top:1477.5px;letter-spacing:0.000px">0</div>
<div class="t td" style="left:1057.35px;top:1477.5px;letter-spacing:0.000px">686</div>
<div class="t td" style="left:1153.85px;top:1477.5px;letter-spacing:0.000px">12,660</div>
<div class="t td" style="left:1211.85px;top:1477.5px;letter-spacing:0.000px">1,814,359</div>
<div class="t td" style="left:1290.60px;top:1477.5px;letter-spacing:0.000px">7.40 %</div>
<div class="t td" style="left:1376.60px;top:1477.5px;letter-spacing:0.000px">11,663</div>
<div class="t td" style="left:1436.10px;top:1477.5px;letter-spacing:0.000px">997</div>
<div class="t td" style="left:1494.85px;top:1477.5px;letter-spacing:0.000px">0</div>
<div class="t td" style="left:1585.60px;top:1477.5px;letter-spacing:0.000px">3</div>
<div class="t td" style="left:1677.10px;top:1477.5px;letter-spacing:0.000px">1,000</div>
<div class="t td" style="left:1751.10px;top:1477.5px;letter-spacing:0.000px">1,000</div>
<div class="abs" style="left:16px;top:1504px;width:1836px;height:10px;background:#f9fafd;border-top:1px solid #ddd"></div>
</body></html>
